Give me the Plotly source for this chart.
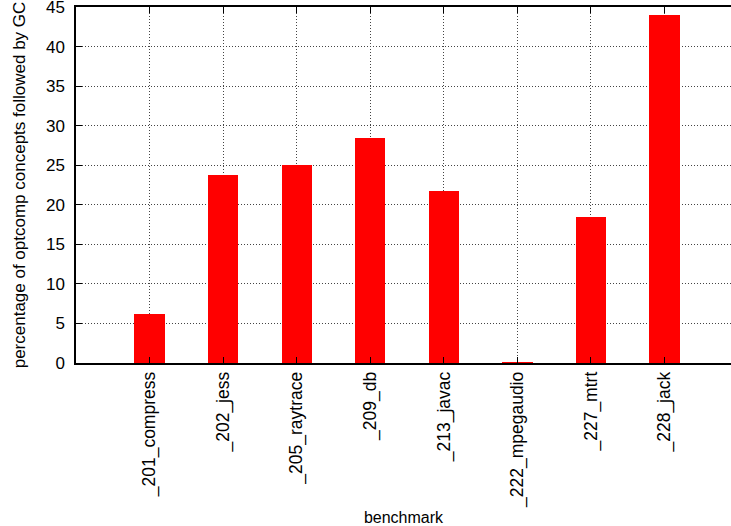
import plotly.graph_objects as go

benchmarks = ["_201_compress", "_202_jess", "_205_raytrace", "_209_db",
              "_213_javac", "_222_mpegaudio", "_227_mtrt", "_228_jack"]
percentages = [6.2, 23.8, 25.0, 28.5, 21.7, 0.1, 18.4, 44.0]
y_ticks = [0, 5, 10, 15, 20, 25, 30, 35, 40, 45]

FONT = "Liberation Sans, Arial, Helvetica, sans-serif"

fig = go.Figure(
    go.Bar(
        x=benchmarks,
        y=percentages,
        width=0.41,
        marker=dict(color="#ff0000", line=dict(width=0)),
    )
)

fig.update_layout(
    width=731,
    height=526,
    margin=dict(l=76, r=0, t=7, b=163),
    plot_bgcolor="white",
    paper_bgcolor="white",
    font=dict(family=FONT, size=16, color="black"),
    showlegend=False,
    bargap=0,
)

fig.update_xaxes(
    type="category",
    range=[-1, 7.903],
    automargin=False,
    tickangle=-90,
    tickfont=dict(size=17.5),
    ticks="inside",
    ticklen=6,
    tickwidth=1.2,
    tickcolor="black",
    showline=True,
    linecolor="black",
    linewidth=1.5,
    mirror="ticks",
    showgrid=True,
    gridcolor="#444",
    griddash="1px,2px",
    gridwidth=1,
    title=dict(text="benchmark", font=dict(size=16), standoff=12),
)

fig.update_yaxes(
    range=[0, 45],
    automargin=False,
    tickvals=y_ticks,
    tickfont=dict(size=17),
    ticklabeloverflow="allow",
    ticklabelstandoff=6,
    ticks="inside",
    ticklen=6,
    tickwidth=1.2,
    tickcolor="black",
    showline=True,
    linecolor="black",
    linewidth=1.5,
    showgrid=True,
    gridcolor="#444",
    griddash="1px,2px",
    gridwidth=1,
    zeroline=False,
    title=dict(text="percentage of optcomp concepts followed by GC",
               font=dict(size=17), standoff=16),
)

fig.write_html("out.html")
